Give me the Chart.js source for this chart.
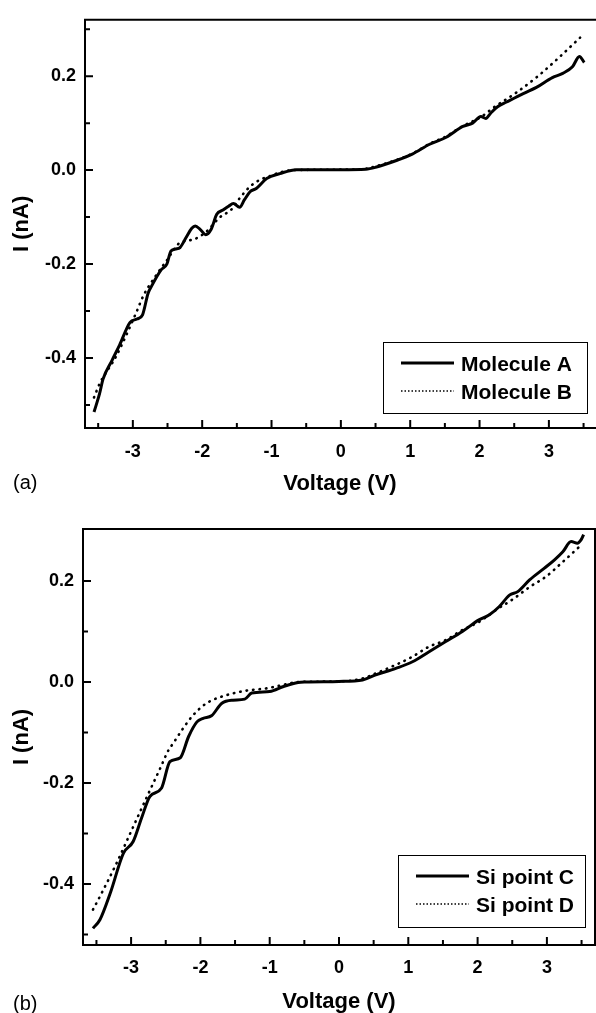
<!DOCTYPE html>
<html lang="en">
<head>
<meta charset="UTF-8">
<title>I-V curves</title>
<script src="https://cdn.jsdelivr.net/npm/chart.js@4"></script>
<style>
  body { margin: 0; background: #fff; }
  .panel { position: absolute; left: 0; width: 596px; }
  .panel canvas { display: block; }
  #panelA { top: 0; height: 500px; }
  #panelB { top: 500px; height: 513px; }
</style>
</head>
<body>
<div class="panel" id="panelA"><canvas id="chartA" width="596" height="500"></canvas></div>
<div class="panel" id="panelB"><canvas id="chartB" width="596" height="513"></canvas></div>

<script>
// axis ticks (shared by both panels)
const xTicks = [-3, -2, -1, 0, 1, 2, 3];
const xMinor = [-3.5, -2.5, -1.5, -0.5, 0.5, 1.5, 2.5, 3.5];
const yTicks = [-0.4, -0.2, 0.0, 0.2];
const yMinor = [-0.5, -0.3, -0.1, 0.1, 0.3];

// (a) molecule curves, voltage (V) / current (nA)
const voltA = [-3.56, -3.48, -3.43, -3.30, -3.19, -3.04, -2.94, -2.86, -2.78, -2.73, -2.59, -2.51, -2.45, -2.38, -2.32,
  -2.23, -2.15, -2.10, -2.03, -1.95, -1.87, -1.79, -1.70, -1.62, -1.55, -1.46, -1.39, -1.31, -1.22, -1.07, -0.88,
  -0.64, -0.30, 0.00, 0.36, 0.50, 0.79, 1.03, 1.28, 1.52, 1.76, 1.90, 2.02, 2.09, 2.16, 2.26, 2.39, 2.63, 2.82,
  3.05, 3.20, 3.34, 3.44, 3.51];
const currA = [-0.515, -0.476, -0.445, -0.405, -0.372, -0.324, -0.317, -0.308, -0.262, -0.247, -0.212, -0.200, -0.172, -0.168, -0.165,
  -0.143, -0.124, -0.119, -0.126, -0.1375, -0.126, -0.094, -0.085, -0.077, -0.071, -0.079, -0.063, -0.046, -0.039, -0.018, -0.0075,
  0.001, 0.001, 0.001, 0.002, 0.006, 0.020, 0.034, 0.055, 0.070, 0.093, 0.100, 0.114, 0.110, 0.121, 0.135, 0.145, 0.163, 0.176,
  0.197, 0.206, 0.220, 0.242, 0.229];

const voltB = [-3.56, -3.48, -3.24, -2.95, -2.85, -2.66, -2.50, -2.35, -2.22, -2.13, -1.94, -1.75, -1.58, -1.46, -1.31,
  -1.17, -1.02, -0.88, -0.69, 0.00, 0.36, 0.50, 0.79, 1.03, 1.28, 1.52, 1.76, 2.02, 2.22, 2.53, 2.85, 3.14, 3.45];
const currB = [-0.484, -0.455, -0.396, -0.303, -0.268, -0.223, -0.190, -0.158, -0.150, -0.148, -0.131, -0.101, -0.084, -0.060, -0.035,
  -0.021, -0.0125, -0.005, 0.000, 0.001, 0.003, 0.008, 0.021, 0.035, 0.056, 0.072, 0.094, 0.113, 0.135, 0.165, 0.201, 0.239, 0.282];

// (b) Si point curves
const voltC = [-3.55, -3.45, -3.30, -3.11, -2.97, -2.85, -2.73, -2.56, -2.44, -2.29, -2.17, -2.05, -1.96, -1.84, -1.69,
  -1.53, -1.36, -1.26, -1.00, -0.80, -0.59, -0.48, 0.00, 0.34, 0.53, 0.82, 1.06, 1.30, 1.54, 1.78, 2.02, 2.17, 2.31,
  2.46, 2.58, 2.75, 2.96, 3.11, 3.23, 3.35, 3.44, 3.49, 3.53];
const currC = [-0.488, -0.471, -0.418, -0.339, -0.316, -0.270, -0.227, -0.210, -0.158, -0.150, -0.108, -0.079, -0.072, -0.067, -0.042,
  -0.036, -0.034, -0.022, -0.019, -0.009, -0.001, 0.000, 0.001, 0.004, 0.014, 0.027, 0.040, 0.060, 0.080, 0.100, 0.123, 0.133, 0.149,
  0.172, 0.179, 0.202, 0.225, 0.242, 0.258, 0.278, 0.275, 0.281, 0.292];

const voltD = [-3.55, -3.45, -3.21, -2.97, -2.77, -2.58, -2.46, -2.39, -2.25, -2.10, -1.91, -1.62, -1.33, -1.04, -0.75,
  -0.59, 0.00, 0.34, 0.53, 0.82, 1.06, 1.30, 1.54, 1.78, 2.02, 2.27, 2.51, 2.75, 2.99, 3.23, 3.47];
const currD = [-0.451, -0.425, -0.359, -0.287, -0.227, -0.171, -0.135, -0.121, -0.092, -0.065, -0.042, -0.026, -0.017, -0.0125, -0.004,
  0.000, 0.001, 0.007, 0.017, 0.034, 0.050, 0.070, 0.083, 0.103, 0.119, 0.143, 0.164, 0.188, 0.209, 0.238, 0.268];

const FONT = "'Liberation Sans', Arial, sans-serif";

function toPoints(v, i) {
    return v.map((x, k) => ({ x: x, y: i[k] }));
}

// frame, inward ticks, boxed legend and panel tag (drawn after the chart)
const framePlugin = {
    id: 'frame',
    afterDraw(chart, args, opts) {
        const { ctx, chartArea: a, scales: { x, y } } = chart;
        ctx.save();
        ctx.strokeStyle = '#000';
        ctx.lineWidth = 2;
        ctx.beginPath();
        if (opts.openRight) {
            // right side of panel (a) runs off the picture
            ctx.moveTo(a.right + 2, a.top);
            ctx.lineTo(a.left, a.top);
            ctx.lineTo(a.left, a.bottom);
            ctx.lineTo(a.right + 2, a.bottom);
        } else {
            ctx.rect(a.left, a.top, a.right - a.left, a.bottom - a.top);
        }
        ctx.stroke();

        ctx.beginPath();
        const xt = (list, len) => list.forEach(v => {
            if (v <= x.min || v >= x.max) return;
            const px = x.getPixelForValue(v);
            ctx.moveTo(px, a.bottom); ctx.lineTo(px, a.bottom - len);
        });
        const yt = (list, len) => list.forEach(v => {
            if (v <= y.min + 0.01 || v >= y.max - 0.01) return;
            const py = y.getPixelForValue(v);
            ctx.moveTo(a.left, py); ctx.lineTo(a.left + len, py);
        });
        xt(xTicks, 8); xt(xMinor, 5);
        yt(yTicks, 8); yt(yMinor, 5);
        ctx.stroke();

        // legend box
        const L = opts.legend;
        ctx.lineWidth = 1;
        ctx.strokeRect(L.x + 0.5, L.y + 0.5, L.w, L.h);
        ctx.font = 'bold 21px ' + FONT;
        ctx.fillStyle = '#000';
        ctx.textBaseline = 'alphabetic';
        ctx.textAlign = 'left';
        chart.data.datasets.forEach((ds, k) => {
            const ly = L.y + 21 + k * 28;
            ctx.beginPath();
            if (ds.borderDash) {
                ctx.lineWidth = 1.5;
                ctx.setLineDash([1.5, 2]);
            } else {
                ctx.lineWidth = 3;
                ctx.setLineDash([]);
            }
            ctx.moveTo(L.x + 18, ly);
            ctx.lineTo(L.x + 71, ly);
            ctx.stroke();
            ctx.setLineDash([]);
            ctx.fillText(ds.label, L.x + 78, ly + 7.5);
        });

        // panel tag
        ctx.font = '20px ' + FONT;
        ctx.fillText(opts.tag, 13, opts.tagY);
        ctx.restore();
    }
};

function ivChart(id, o) {
    return new Chart(document.getElementById(id), {
        type: 'line',
        data: {
            datasets: [
                {
                    label: o.labels[0],
                    data: toPoints(o.v1, o.i1),
                    borderColor: '#000',
                    borderWidth: 3,
                    pointRadius: 0,
                    cubicInterpolationMode: 'monotone'
                },
                {
                    label: o.labels[1],
                    data: toPoints(o.v2, o.i2),
                    borderColor: '#000',
                    borderWidth: 2.6,
                    borderDash: [0.5, 6],
                    borderCapStyle: 'round',
                    pointRadius: 0,
                    cubicInterpolationMode: 'monotone'
                }
            ]
        },
        options: {
            responsive: false,
            animation: false,
            layout: { padding: { top: o.top, right: 1, bottom: 0, left: 0 } },
            plugins: {
                legend: { display: false },
                tooltip: { enabled: false },
                frame: { legend: o.legend, tag: o.tag, tagY: o.tagY, openRight: o.openRight }
            },
            scales: {
                x: {
                    type: 'linear',
                    min: o.xMin,
                    max: o.xMax,
                    afterFit: s => { s.height = o.xHeight; },
                    afterBuildTicks: s => { s.ticks = xTicks.map(v => ({ value: v })); },
                    grid: { display: false, drawTicks: false },
                    border: { display: false },
                    ticks: {
                        padding: o.xPad,
                        color: '#000',
                        font: { family: FONT, size: 18, weight: 'bold' },
                        callback: v => String(v)
                    },
                    title: {
                        display: true,
                        text: 'Voltage (V)',
                        color: '#000',
                        font: { family: FONT, size: 22, weight: 'bold', lineHeight: 1 },
                        padding: { top: 0, bottom: o.titlePad }
                    }
                },
                y: {
                    type: 'linear',
                    min: o.yMin,
                    max: o.yMax,
                    afterFit: s => { s.width = o.yWidth; },
                    afterBuildTicks: s => { s.ticks = yTicks.map(v => ({ value: v })); },
                    grid: { display: false, drawTicks: false },
                    border: { display: false },
                    ticks: {
                        padding: 9,
                        color: '#000',
                        font: { family: FONT, size: 18, weight: 'bold' },
                        callback: v => v.toFixed(1)
                    },
                    title: {
                        display: true,
                        text: 'I (nA)',
                        color: '#000',
                        font: { family: FONT, size: 22, weight: 'bold', lineHeight: 1 },
                        padding: { top: 10.7, bottom: 0 }
                    }
                }
            }
        },
        plugins: [framePlugin]
    });
}

ivChart('chartA', {
    labels: ['Molecule A', 'Molecule B'],
    v1: voltA, i1: currA, v2: voltB, i2: currB,
    xMin: -3.69, xMax: 3.665, yMin: -0.549, yMax: 0.32,
    top: 11, xHeight: 72, yWidth: 85, xPad: 13, titlePad: 5, openRight: true,
    legend: { x: 383, y: 342, w: 204, h: 71 },
    tag: '(a)', tagY: 489
});

ivChart('chartB', {
    labels: ['Si point C', 'Si point D'],
    v1: voltC, i1: currC, v2: voltD, i2: currD,
    xMin: -3.694, xMax: 3.694, yMin: -0.521, yMax: 0.303,
    top: 29, xHeight: 68, yWidth: 83, xPad: 12, titlePad: 0, openRight: false,
    legend: { x: 398, y: 355, w: 187, h: 72 },
    tag: '(b)', tagY: 510
});
</script>
</body>
</html>
